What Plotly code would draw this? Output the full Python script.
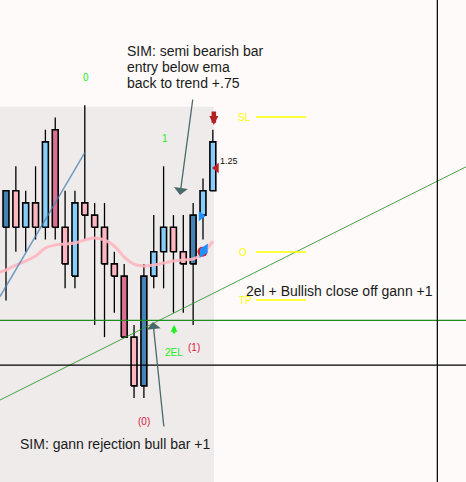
import plotly.graph_objects as go

# ---------------- data ----------------
bar_index = list(range(22))
opens  = [4000.00, 4000.75, 4000.00, 4000.50, 4000.00, 4002.00, 4000.00, 3999.00, 4000.50, 4000.25, 4000.00,
          3999.25, 3999.00, 3997.75, 3996.75, 3999.00, 3999.50, 4000.00, 3999.50, 3999.25, 4000.25, 4000.75]
highs  = [4000.75, 4001.25, 4000.75, 4001.25, 4002.00, 4002.25, 4000.75, 4000.75, 4002.50, 4000.50, 4000.50,
          3999.50, 3999.25, 3998.00, 3999.25, 4000.25, 4001.25, 4000.25, 4000.25, 4000.50, 4001.00, 4002.00]
lows   = [3998.50, 3999.50, 3999.50, 3999.75, 3999.75, 3999.75, 3998.75, 3998.75, 3999.75, 3998.00, 3997.75,
          3998.25, 3997.75, 3996.50, 3996.50, 3998.75, 3998.75, 3998.25, 3998.25, 3998.00, 3999.75, 4000.75]
closes = [4000.75, 4000.00, 4000.50, 4000.00, 4001.75, 4000.00, 3999.25, 4000.50, 4000.25, 4000.00, 3999.25,
          3999.00, 3997.75, 3996.75, 3999.00, 3999.50, 4000.00, 3999.50, 3999.25, 4000.25, 4000.75, 4001.75]
bar_style = ["steel", "pink", "sky", "pink", "sky", "rose", "pink", "sky", "pink", "pink", "pink",
             "pink", "rose", "pink", "steel", "sky", "sky", "pink", "pink", "steel", "sky", "sky"]
ema_index = [-1] + bar_index
ema = [3999.06, 3999.125, 3999.227, 3999.309, 3999.412, 3999.576, 3999.637, 3999.658, 3999.678, 3999.740, 3999.781,
       3999.740, 3999.617, 3999.391, 3999.248, 3999.207, 3999.227, 3999.268, 3999.309, 3999.330, 3999.350, 3999.473,
       3999.719]

# drawing objects
shade_x = [-1.0, 21.12]
shade_y = [3994.0, 4002.47]
trend_x = [-0.61, 8.0]
trend_y = [3998.58, 4001.53]
gann_x = [-0.61, 46.70]
gann_y = [3996.46, 4001.24]
green_level = 3998.094
black_level = 3997.178
black_vline = 43.79
order_labels = ["SL", "O", "TP"]
order_levels = [4002.26, 3999.494, 3998.51]
order_line_x = [25.38, 30.46]
order_label_x = [24.26, 24.06, 24.31]

X_RANGE = [-0.609, 46.701]
Y_RANGE = [3994.781, 4004.658]

BG = "#FDFAF9"
SHADE = "#EEEBEA"
BODY_COLORS = {"sky": "#87CEFA", "pink": "#FFB6C1", "steel": "#4682B4", "rose": "#DB7093"}
FONT = "Liberation Sans, Arial, sans-serif"

fig = go.Figure()

# shaded session background
fig.add_trace(go.Scatter(
    x=[shade_x[0], shade_x[1], shade_x[1], shade_x[0], shade_x[0]],
    y=[shade_y[0], shade_y[0], shade_y[1], shade_y[1], shade_y[0]],
    fill="toself", fillcolor=SHADE, line=dict(width=0), mode="lines", hoverinfo="skip"))

# wicks
wx, wy = [], []
for i, h, l in zip(bar_index, highs, lows):
    wx += [i, i, None]
    wy += [l, h, None]
fig.add_trace(go.Scatter(x=wx, y=wy, mode="lines", line=dict(color="black", width=1.3), hoverinfo="skip"))

# bodies
HALF = 0.3
for style, col in BODY_COLORS.items():
    bx, by = [], []
    for i, o, c, s in zip(bar_index, opens, closes, bar_style):
        if s != style:
            continue
        lo, hi = min(o, c), max(o, c)
        bx += [i - HALF, i + HALF, i + HALF, i - HALF, i - HALF, None]
        by += [lo, lo, hi, hi, lo, None]
    fig.add_trace(go.Scatter(x=bx, y=by, mode="lines", fill="toself", fillcolor=col,
                             line=dict(color="black", width=1.6), hoverinfo="skip"))

# EMA
fig.add_trace(go.Scatter(x=ema_index, y=ema, mode="lines",
                         line=dict(color="rgba(255,182,193,0.9)", width=3, shape="spline"), hoverinfo="skip"))

# trend line (blue)
fig.add_trace(go.Scatter(x=trend_x, y=trend_y, mode="lines", line=dict(color="rgba(70,130,180,0.75)", width=1.5),
                         hoverinfo="skip"))
# gann line
fig.add_trace(go.Scatter(x=gann_x, y=gann_y, mode="lines", line=dict(color="rgba(40,150,40,0.85)", width=1),
                         hoverinfo="skip"))
# horizontal / vertical lines
fig.add_trace(go.Scatter(x=X_RANGE, y=[green_level, green_level], mode="lines",
                         line=dict(color="#228B22", width=1.2), hoverinfo="skip"))
fig.add_trace(go.Scatter(x=X_RANGE, y=[black_level, black_level], mode="lines",
                         line=dict(color="black", width=1.2), hoverinfo="skip"))
fig.add_trace(go.Scatter(x=[black_vline, black_vline], y=Y_RANGE, mode="lines",
                         line=dict(color="black", width=1.2), hoverinfo="skip"))
# order lines (yellow)
for lvl in order_levels:
    fig.add_trace(go.Scatter(x=order_line_x, y=[lvl, lvl], mode="lines",
                             line=dict(color="#FFFF00", width=1.5), hoverinfo="skip"))

# signal markers
fig.add_trace(go.Scatter(x=[21.37], y=[4001.215], mode="markers",
                         marker=dict(symbol="triangle-left", size=9, color="#C0202A"), hoverinfo="skip"))
fig.add_trace(go.Scatter(x=[19.8], y=[4000.23], mode="markers",
                         marker=dict(symbol="triangle-right", size=9, color="#1E90FF"), hoverinfo="skip"))
fig.add_trace(go.Scatter(x=[19.95], y=[3999.50], mode="markers",
                         marker=dict(symbol="circle", size=10, color="#D0202A"), hoverinfo="skip"))
fig.add_trace(go.Scatter(x=[20.08], y=[3999.52], mode="markers",
                         marker=dict(symbol="diamond-tall", size=12, angle=30, color="#1E90FF"), hoverinfo="skip"))

fig.update_layout(
    width=466, height=482, margin=dict(l=0, r=0, t=0, b=0),
    paper_bgcolor=BG, plot_bgcolor=BG, showlegend=False,
    xaxis=dict(range=X_RANGE, visible=False, showgrid=False, zeroline=False, fixedrange=True),
    yaxis=dict(range=Y_RANGE, visible=False, showgrid=False, zeroline=False, fixedrange=True),
)

ann = []
def txt(x, y, s, size, color, xanchor="center"):
    ann.append(dict(x=x, y=y, xref="x", yref="y", text=s, showarrow=False, xanchor=xanchor, yanchor="middle",
                    font=dict(family=FONT, size=size, color=color)))

# SIM note 1
for s, yy in zip(["SIM: semi bearish bar", "entry below ema", "back to trend +.75"], [4003.613, 4003.285, 4002.957]):
    txt(12.08, yy, s, 14, "#1a1a1a", "left")
txt(1.22, 3995.559, "SIM: gann rejection bull bar +1", 14, "#1a1a1a", "left")
txt(24.16, 3998.695, "2el + Bullish close off gann +1", 14, "#1a1a1a", "left")

txt(8.09, 4003.07, "0", 10, "#22EE22")
txt(16.14, 4001.824, "1", 10, "#22EE22")
txt(22.61, 4001.365, "1.25", 9, "#111111")
for lab, lvl, lx in zip(order_labels, order_levels, order_label_x):
    txt(lx, lvl, lab, 10, "#FFFF00")
txt(17.06, 3997.434, "2EL", 10, "#22EE22")
txt(19.04, 3997.53, "(1)", 10, "#DC143C")
txt(14.06, 3996.03, "(0)", 10, "#DC143C")

# note arrows
ann.append(dict(x=17.66, y=4000.662, ax=18.98, ay=4002.65, axref="x", ayref="y", xref="x", yref="y",
                text="", showarrow=True, arrowhead=1, arrowwidth=1.3, arrowsize=1.8, arrowcolor="#4A6A6A"))
ann.append(dict(x=14.92, y=3998.06, ax=16.04, ay=3995.887, axref="x", ayref="y", xref="x", yref="y",
                text="", showarrow=True, arrowhead=1, arrowwidth=1.3, arrowsize=1.8, arrowcolor="#4A6A6A"))
# signal arrows
ann.append(dict(x=21.1, y=4002.096, ax=0, ay=-15, xref="x", yref="y", text="", showarrow=True,
                arrowhead=2, arrowwidth=4.5, arrowsize=0.4, arrowcolor="#B22222"))
ann.append(dict(x=17.06, y=3998.0, ax=0, ay=10, xref="x", yref="y", text="", showarrow=True,
                arrowhead=2, arrowwidth=2.5, arrowsize=0.55, arrowcolor="#22EE22"))

fig.update_layout(annotations=ann)
fig.write_html("out.html", config={"displayModeBar": False},
               post_script="document.body.style.margin='0';document.body.style.background='%s';" % BG)
